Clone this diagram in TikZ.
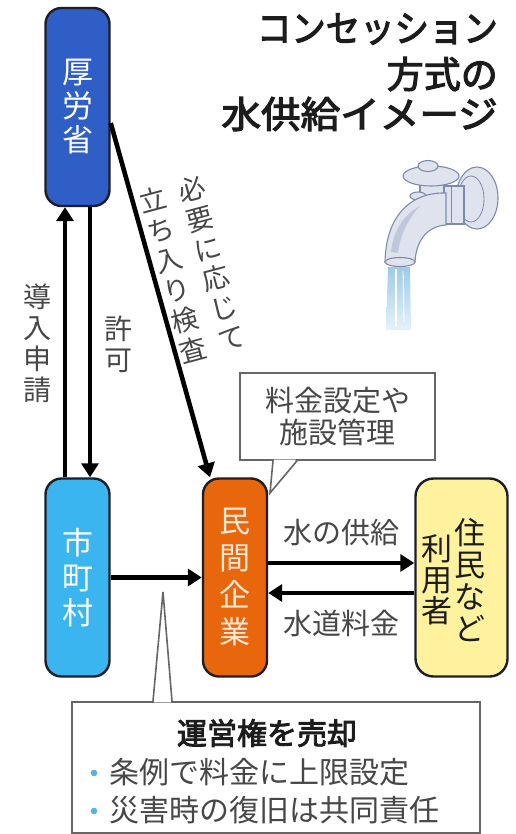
\documentclass[tikz,border=0pt]{standalone}
\usepackage{fontspec}
\newfontfamily\jp{Noto Sans CJK JP}
\newfontfamily\jpbold[FakeBold=3]{Noto Sans CJK JP}
\usetikzlibrary{arrows.meta,calc}

\definecolor{mhlw}{HTML}{2F5EC6}
\definecolor{city}{HTML}{3AB5F0}
\definecolor{firm}{HTML}{E8660C}
\definecolor{firmtext}{HTML}{FFEAD8}
\definecolor{user}{HTML}{FFF29E}
\definecolor{edge}{HTML}{1E1E28}
\definecolor{lbl}{HTML}{474747}
\definecolor{head}{HTML}{1C1C1C}
\definecolor{callline}{HTML}{666666}
\definecolor{dot}{HTML}{5AB0E0}
\definecolor{tapbody}{HTML}{DEE3EE}
\definecolor{tapshade}{HTML}{BFC8DA}
\definecolor{tapline}{HTML}{7E8BAA}
\definecolor{water}{HTML}{9CCBEA}

\begin{document}
\begin{tikzpicture}[x=1pt,y=-1pt,
  every node/.style={inner sep=0pt},
  unit/.style={draw=edge, line width=2.4pt, rounded corners=16pt,
    minimum width=64pt, minimum height=198pt, align=center},
  flow/.style={draw=black, line width=4.6pt, -{Triangle[length=14pt,width=17pt]}},
  tag/.style={text=lbl, align=center, font=\jp\fontsize{28}{31}\selectfont},
  note/.style={draw=callline, line width=1.6pt, fill=white},
  notetext/.style={text=lbl, font=\jp\fontsize{29}{32}\selectfont},
  title/.style={anchor=east, text=head, font=\jpbold\fontsize{37}{40}\selectfont},
  tapfill/.style={fill=tapbody, draw=tapline, line width=1.1pt},
]
\useasboundingbox (0,0) rectangle (515,834);
\fill[white] (0,0) rectangle (515,834);

% ---- heading ----
\node[title, xscale=0.93] (t1) at (498,29) {コンセッション};
\node[title] (t2) at (498,74) {方式の};
\node[title, xscale=1.07] (t3) at (498,114) {水供給イメージ};

% ---- faucet ----
% wall plate
\filldraw[tapfill] (477,198) ellipse (21pt and 31pt);
\draw[tapline, line width=0.8pt] (471,199) ellipse (13pt and 23pt);
% body
\filldraw[tapfill] (438,186) -- (464,186) -- (464,224) -- (438,224) -- cycle;
\draw[tapline, line width=0.8pt] (451,187) -- (451,223);
% spindle and handle
\filldraw[tapfill] (420,180) rectangle (444,200);
\filldraw[tapfill] (418,196) ellipse (8pt and 4pt);
\filldraw[tapfill] (431,176) ellipse (28pt and 10pt);
\filldraw[tapfill] (428,166) ellipse (10pt and 5.5pt);
% spout
\filldraw[tapfill] (446,193) .. controls (412,192) and (386,214) .. (385,262)
  -- (415,262) .. controls (416,240) and (428,226) .. (446,225) -- cycle;
\fill[tapshade] (391,252) .. controls (393,232) and (403,215) .. (420,206)
  .. controls (408,219) and (400,235) .. (398,253) -- cycle;
\filldraw[tapfill] (400,262) ellipse (15pt and 4.5pt);
% water
\shade[top color=water, bottom color=water!25] (388,267) -- (410,267) -- (411,330) -- (386,330) -- cycle;
\draw[white, line width=1.2pt] (396,269) -- (396,326);
\draw[white, line width=0.8pt] (403,271) -- (404,322);

% ---- main units ----
\node[unit, fill=mhlw, text=white, font=\jp\fontsize{31}{34}\selectfont]
  (mhlw) at (77.5,107) {厚\\労\\省};
\node[unit, fill=city, text=white, font=\jp\fontsize{31}{35}\selectfont]
  (city) at (77.5,577.5) {市\\町\\村};
\node[unit, fill=firm, text=firmtext, font=\jp\fontsize{31}{37}\selectfont]
  (firm) at (235,577.5) {民\\間\\企\\業};
\node[unit, fill=user, minimum width=92pt, rounded corners=18pt]
  (user) at (461.5,577.5) {};
\node[align=center, text=head, font=\jp\fontsize{31}{32}\selectfont]
  (userR) at (470,580) {住\\民\\な\\ど};
\node[align=center, text=head, font=\jp\fontsize{31}{31}\selectfont]
  (userL) at (437,580) {利\\用\\者};

% ---- connectors ----
\draw[flow] ([xshift=-12.5pt]city.north) -- ([xshift=-12.5pt]mhlw.south);
\draw[flow] ([xshift=12.5pt]mhlw.south) -- ([xshift=12.5pt]city.north);
\draw[flow] ([yshift=-16pt]mhlw.east) -- ([xshift=-25pt]firm.north);
\draw[flow] (city.east) -- (firm.west);
\draw[flow] ([yshift=14.5pt]firm.east) -- ([yshift=14.5pt]user.west);
\draw[flow] ([yshift=-15.5pt]user.west) -- ([yshift=-15.5pt]firm.east);

% ---- connector labels ----
\node[tag] (apply) at (37,343) {導\\入\\申\\請};
\node[tag] (permit) at (118,344) {許\\可};
\node[tag, rotate=15, font=\jp\fontsize{27}{31}\selectfont] (insp1) at (212,263) {必\\要\\に\\応\\じ\\て};
\node[tag, rotate=15, font=\jp\fontsize{27}{31}\selectfont] (insp2) at (173,275) {立\\ち\\入\\り\\検\\査};
\node[tag, font=\jp\fontsize{29}{30}\selectfont] (supply) at (341,533) {水の供給};
\node[tag, font=\jp\fontsize{29}{30}\selectfont] (pay) at (341,623) {水道料金};

% ---- callout: fee setting ----
\node[note, minimum width=195pt, minimum height=87pt, align=center, notetext]
  (fee) at (337.5,416.5) {料金設定や\\施設管理};
\coordinate (feetip) at (270,493);
\fill[white] ([xshift=-63.5pt,yshift=1.2pt]fee.south) -- (feetip) -- ([xshift=-41.5pt,yshift=1.2pt]fee.south) -- cycle;
\draw[callline, line width=1.6pt, line join=miter] ([xshift=-64.5pt]fee.south) -- (feetip) -- ([xshift=-40.5pt]fee.south);

% ---- callout: sale of operating rights ----
\node[note, minimum width=408pt, minimum height=131pt] (sale) at (276,767.5) {};
\coordinate (saletip) at (163,592);
\fill[white] ([xshift=-122pt,yshift=-1.2pt]sale.north) -- (saletip) -- ([xshift=-105pt,yshift=-1.2pt]sale.north) -- cycle;
\draw[callline, line width=1.6pt, line join=miter] ([xshift=-123pt]sale.north) -- (saletip) -- ([xshift=-104pt]sale.north);
\node[text=head, font=\jpbold\fontsize{30}{32}\selectfont] (saletitle) at (267,733) {運営権を売却};
\node[anchor=west, notetext, font=\jp\fontsize{30}{32}\selectfont] (rule1) at (109,772) {条例で料金に上限設定};
\node[anchor=west, notetext, font=\jp\fontsize{30}{32}\selectfont] (rule2) at (109,810) {災害時の復旧は共同責任};
\fill[dot] (94,773) circle (3.3pt);
\fill[dot] (94,811) circle (3.3pt);
\end{tikzpicture}
\end{document}
